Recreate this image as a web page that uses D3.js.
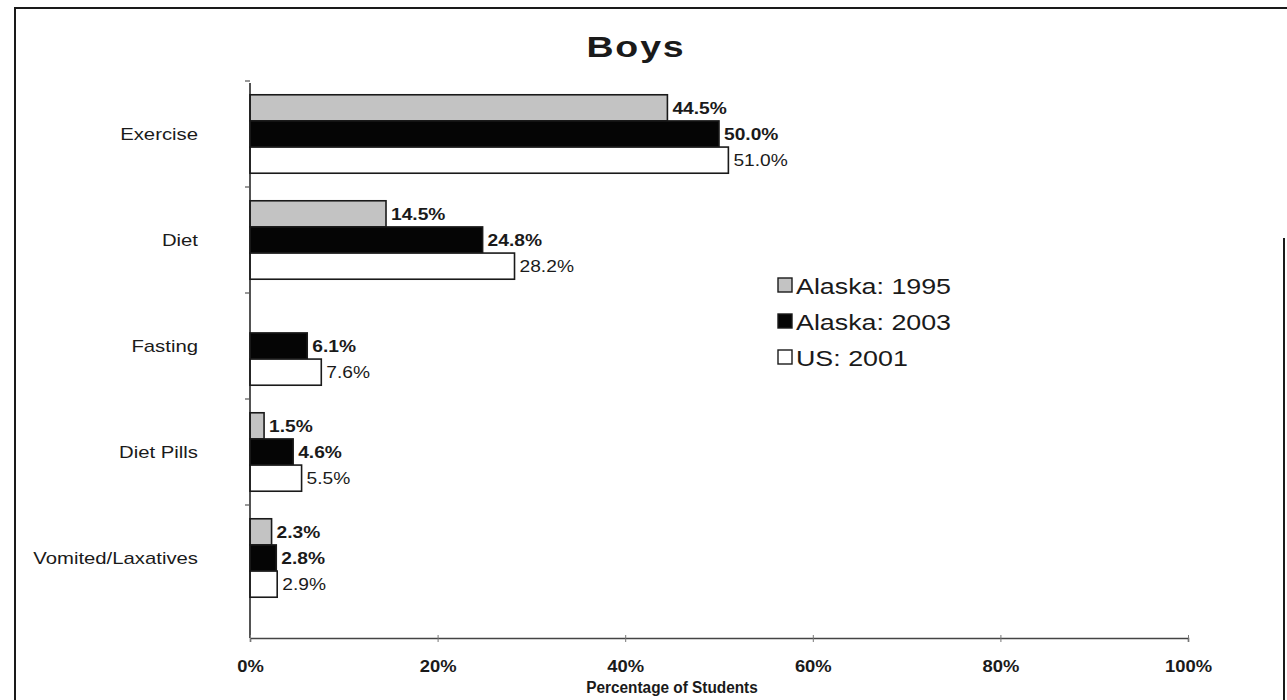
<!DOCTYPE html>
<html>
<head>
<meta charset="utf-8">
<script src="https://cdn.jsdelivr.net/npm/d3@7"></script>
<style>
  html, body { margin: 0; padding: 0; background: #fff; }
  svg { display: block; font-family: "Liberation Sans", Arial, sans-serif; }
</style>
</head>
<body>
<svg id="chart" width="1287" height="700"></svg>
<script>
// Weight-control methods reported by boys
const categories = ["Exercise", "Diet", "Fasting", "Diet Pills", "Vomited/Laxatives"];
const seriesNames = ["Alaska: 1995", "Alaska: 2003", "US: 2001"];
const alaska1995 = [44.5, 14.5, null, 1.5, 2.3];
const alaska2003 = [50.0, 24.8, 6.1, 4.6, 2.8];
const us2001 = [51.0, 28.2, 7.6, 5.5, 2.9];
const xTicks = [0, 20, 40, 60, 80, 100];

const seriesValues = [alaska1995, alaska2003, us2001];
const fills = ["#c3c3c3", "#050505", "#ffffff"];
const labelWeights = ["bold", "bold", "normal"];

const svg = d3.select("#chart");
const ink = "#1a1a1a";

// Chart frame
svg.append("path")
  .attr("d", "M15,702 L15,8 L1287,8")
  .attr("fill", "none").attr("stroke", ink).attr("stroke-width", 2);
svg.append("line")
  .attr("x1", 1284).attr("x2", 1284).attr("y1", 238).attr("y2", 702)
  .attr("stroke", ink).attr("stroke-width", 2);

// Text helper: horizontally widened glyphs
function stretchedText(parent, x, y, str, opts) {
  const sx = opts.sx || 1.2;
  return parent.append("text")
    .attr("transform", `translate(${x},${y}) scale(${sx},1)`)
    .attr("text-anchor", opts.anchor || "start")
    .attr("font-size", opts.size)
    .attr("font-weight", opts.weight || "normal")
    .attr("letter-spacing", opts.spacing || 0)
    .attr("fill", opts.fill || ink)
    .text(str);
}

// Scales
const x = d3.scaleLinear().domain([0, 100]).range([250, 1188]);
const y = d3.scaleBand().domain(categories).range([81, 611])
  .paddingInner(0.26).paddingOuter(0.13);
const ySub = d3.scaleBand().domain(d3.range(seriesNames.length)).range([0, y.bandwidth()]);

const axisY = 638;

// Title
stretchedText(svg, 636, 57, "Boys", { size: 30, weight: "bold", anchor: "middle", sx: 1.25, spacing: 1.5 });

// Bars and value labels
const groups = svg.append("g").selectAll("g")
  .data(categories)
  .join("g")
  .attr("transform", d => `translate(0,${y(d)})`);

seriesValues.forEach((vals, si) => {
  categories.forEach((cat, ci) => {
    const v = vals[ci];
    if (v == null) return;
    const g = groups.filter(d => d === cat);
    g.append("rect")
      .attr("x", x(0))
      .attr("y", ySub(si))
      .attr("width", x(v) - x(0))
      .attr("height", ySub.bandwidth())
      .attr("fill", fills[si])
      .attr("stroke", ink)
      .attr("stroke-width", 1.6);
    stretchedText(g, x(v) + 5, ySub(si) + ySub.bandwidth() / 2 + 6,
      v.toFixed(1) + "%", { size: 17, weight: labelWeights[si], sx: 1.13 });
  });
});

// Category axis (boundary ticks, centred labels)
svg.append("line")
  .attr("x1", x(0)).attr("x2", x(0)).attr("y1", 83).attr("y2", axisY)
  .attr("stroke", ink).attr("stroke-width", 1.5);
const step = y.step();
const boundaries = categories.map(c => y(c) - y.paddingInner() * step / 2);
svg.append("g").selectAll("line")
  .data(boundaries)
  .join("line")
  .attr("x1", x(0) - 5).attr("x2", x(0))
  .attr("y1", d => d).attr("y2", d => d)
  .attr("stroke", "#555").attr("stroke-width", 1.2);
categories.forEach(c => {
  stretchedText(svg, 198, y(c) + y.bandwidth() / 2 + 6, c, { size: 16, anchor: "end", sx: 1.27 });
});

// Value axis
const xAxis = svg.append("g")
  .attr("transform", `translate(0,${axisY})`)
  .call(d3.axisBottom(x).tickValues(xTicks).tickFormat(d => d + "%").tickSize(4).tickPadding(19));
xAxis.select(".domain").attr("stroke", "#444").attr("stroke-width", 1.5);
xAxis.selectAll(".tick line").attr("stroke", "#777").attr("y1", -3);
xAxis.selectAll(".tick text")
  .attr("font-size", 16).attr("font-weight", "bold").attr("fill", ink)
  .attr("font-family", "\"Liberation Sans\", Arial, sans-serif")
  .attr("transform", "scale(1.15,1)");

// Axis title
stretchedText(svg, 672, 693, "Percentage of Students", { size: 16, weight: "bold", anchor: "middle", sx: 0.96 });

// Legend
const legend = svg.append("g");
const legendRows = [286, 322, 358];
seriesNames.forEach((name, i) => {
  legend.append("rect")
    .attr("x", 778).attr("y", legendRows[i] - 8)
    .attr("width", 14).attr("height", 14)
    .attr("fill", fills[i]).attr("stroke", ink).attr("stroke-width", 1.4);
  stretchedText(legend, 796, legendRows[i] + 8, name, { size: 22, sx: 1.22 });
});
</script>
</body>
</html>
